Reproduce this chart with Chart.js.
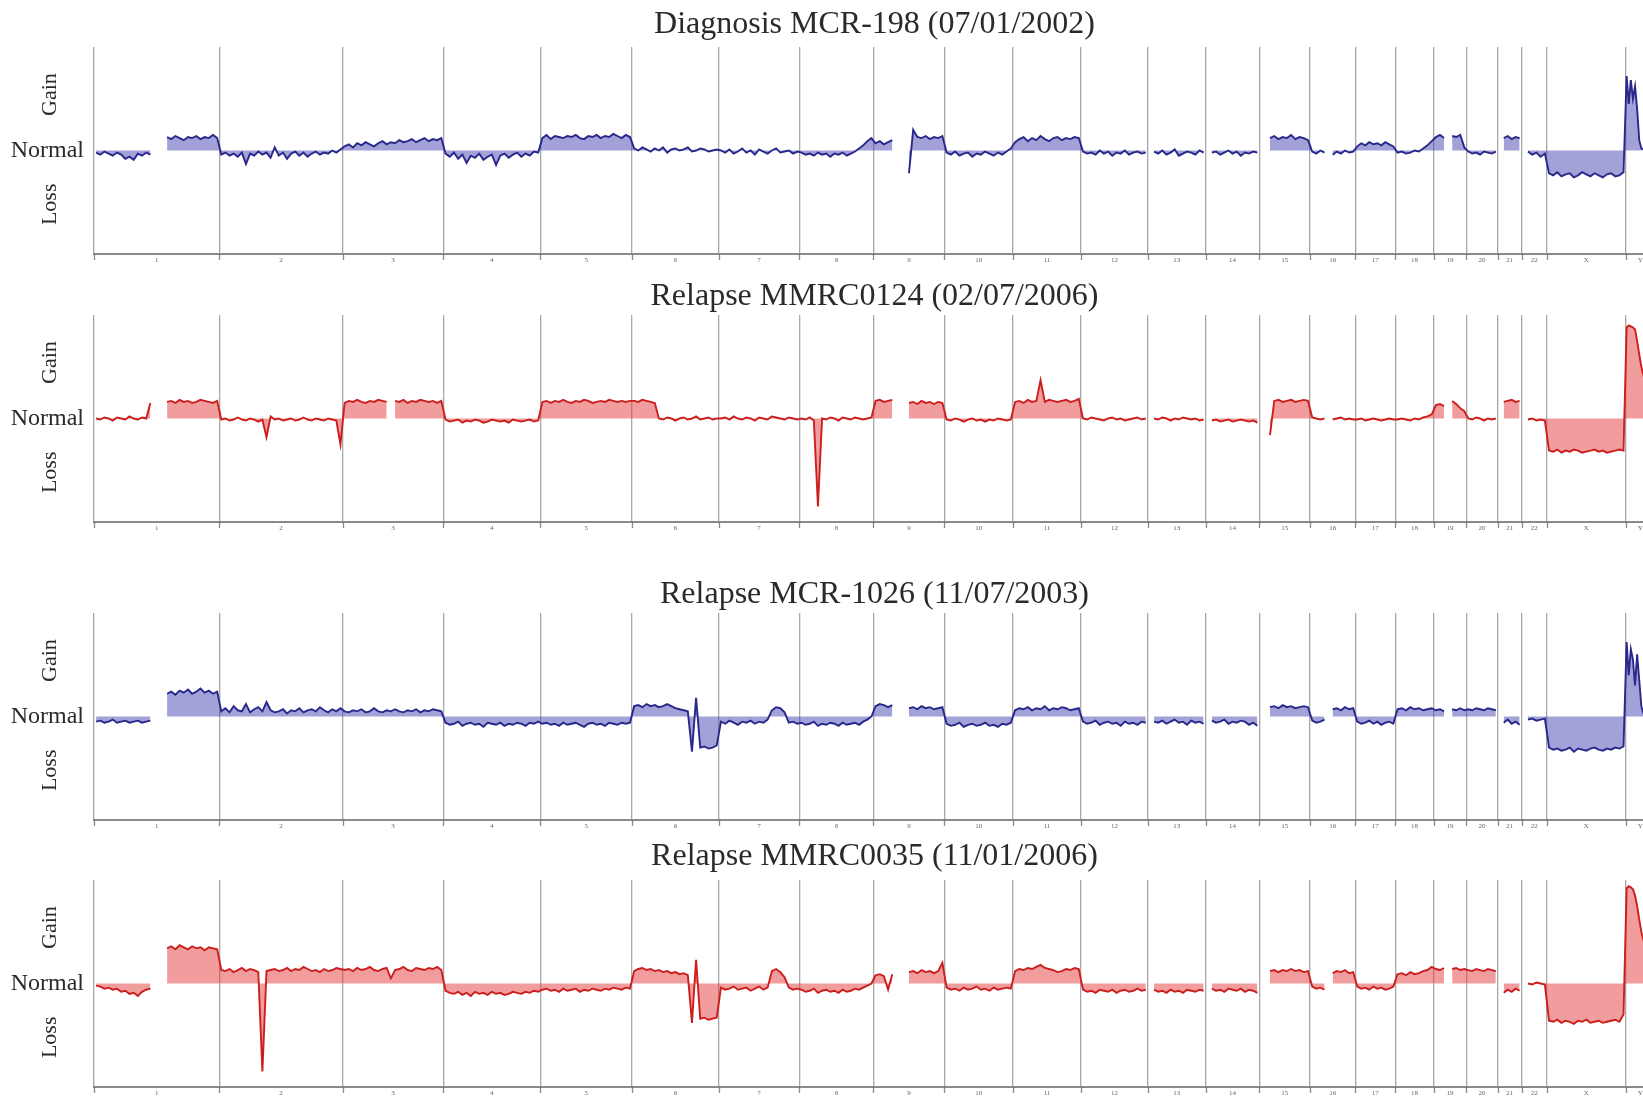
<!DOCTYPE html>
<html>
<head>
<meta charset="utf-8">
<script src="https://cdn.jsdelivr.net/npm/chart.js@4.4.1/dist/chart.umd.min.js"></script>
<style>
html,body{margin:0;padding:0;background:#fff;overflow:hidden;width:1643px;height:1098px;position:relative;}
canvas{position:absolute;left:0;}
</style>
</head>
<body>
<canvas id="c0"></canvas>
<canvas id="c1"></canvas>
<canvas id="c2"></canvas>
<canvas id="c3"></canvas>
<script>
// ---- data ----
const chromosomes = ['1','2','3','4','5','6','7','8','9','10','11','12','13','14','15','16','17','18','19','20','21','22','X','Y'];
const chromLengths = [247,243,199,191,181,171,159,146,140,135,134,132,114,106,100,89,79,76,64,62,47,50,155,58];
const panelTitles = ['Diagnosis MCR-198 (07/01/2002)','Relapse MMRC0124 (02/07/2006)','Relapse MCR-1026 (11/07/2003)','Relapse MMRC0035 (11/01/2006)'];
const yLabels = ['Gain','Normal','Loss'];

// copy-number level (x100) per chromosome, evenly spaced along each chromosome; null = no probes
const diagnosisMCR198 = [
 [-2,-4,-1,-3,-5,-2,-4,-8,-6,-9,-3,-5,-2,-4,null,null,null,13,11,14,12,10,13,12,14,11,13,12,15,12],
 [-4,-2,-5,-3,-6,-2,-13,-3,-5,-1,-4,-2,-7,3,-5,-2,-8,-3,-1,-5,-2,-6,-3,-1,-4,-2,-3,0,-2,1],
 [4,6,3,7,5,8,6,4,7,9,6,8,7,10,8,9,11,8,10,12,9,11,10,12],
 [-3,-6,-2,-8,-4,-12,-5,-7,-3,-9,-6,-4,-14,-5,-3,-7,-4,-2,-6,-3,-5,-1,-2],
 [12,15,11,14,13,12,14,13,15,12,11,14,13,15,12,14,13,16,14,12,15,13],
 [2,0,3,1,-1,2,0,3,-2,1,2,0,1,3,-1,0,2,1,-1,0,1],
 [0,-2,1,-3,-1,2,-2,0,-4,1,-1,-3,0,2,-2,-1,0,-3,-1],
 [-2,-4,-3,-5,-2,-4,-3,-6,-3,-4,-2,-5,-3,-1,2,5,9,12],
 [7,9,6,8,10,null,null,null,-22,20,13,12,14,11,13,12,14],
 [-2,-4,-1,-5,-3,-2,-6,-3,-4,-1,-3,-5,-2,-4,-1,2],
 [8,11,13,9,12,10,14,11,9,12,13,10,12,11,13,12],
 [-1,-3,-2,-4,0,-3,-1,-5,-2,-3,0,-4,-2,-1,-3,-2],
 [null,-1,-3,0,-4,-2,1,-5,-3,-1,-2,-4,0,-2],
 [null,-2,-1,-4,-2,0,-3,-1,-5,-2,-3,-1,-2],
 [null,null,12,14,11,13,12,15,11,13,12,10],
 [-1,-3,0,-2,null,-4,-1,-3,0,-2,-1],
 [4,7,5,8,6,7,5,8,6,4],
 [-2,-1,-3,-2,0,-1,2,5,9],
 [13,15,12,null,14,13,15,3],
 [-1,-3,-2,-4,-1,-2,-3,-1],
 [null,12,14,11,13,12],
 [null,-1,-4,-2,-6,-3],
 [-22,-24,-21,-25,-23,-22,-26,-24,-21,-23,-25,-22,-24,-26,-23,-22,-25,-24,-21],
 [72,45,68,50,62,40,10,2,1,0,2,1,0,1]
];
const relapseMMRC0124 = [
 [0,-1,1,0,-2,1,0,-1,2,0,-1,1,0,15,null,null,null,16,17,15,18,16,17,15,16,18,17,16,15,17],
 [-1,0,-2,-1,1,-1,-2,0,-1,-3,-1,-18,2,-1,0,-2,-1,0,-2,-1,1,-1,-2,0,-1,-2,0,-1,-2,-25],
 [15,17,16,18,16,15,17,16,18,17,16,null,17,16,18,15,17,16,18,17,16,17,15,17],
 [-1,-3,-2,-1,-4,-2,-3,-1,-2,-4,-3,-1,-2,-3,-2,-4,-1,-2,-3,-2,-1,-3,-2],
 [16,17,15,17,16,18,16,15,17,16,18,17,15,16,17,16,18,17,16,17,16,17],
 [17,16,18,17,16,15,0,-1,1,0,-2,0,1,-1,0,2,-1,0,1,-1,0],
 [0,1,-1,2,0,-1,1,0,-2,1,0,-1,2,1,0,-1,1,0,-1],
 [0,-1,1,-2,-85,0,-1,1,0,-2,1,0,-1,1,0,-1,0,1],
 [17,18,16,17,18,null,null,null,15,16,14,17,15,16,14,16,15],
 [-1,-2,0,-1,-3,-1,0,-2,-1,-3,-1,-2,0,-1,-2,-1],
 [16,17,15,18,16,17,37,16,18,17,16,17,18,16,17,19],
 [0,-1,1,0,-1,-2,0,1,-1,0,-2,-1,0,1,-1,0],
 [null,0,-1,1,0,-2,0,-1,1,0,-1,0,-2,-1],
 [null,-2,-1,-3,-2,-1,-3,-2,-1,-2,-3,-2,-4],
 [null,null,-16,17,18,16,17,18,16,17,18,17],
 [1,0,-1,0,null,-1,0,1,-1,0,-1],
 [-1,0,-2,-1,0,-1,-2,-1,0,-1],
 [-1,0,-1,-2,0,-1,1,2,4],
 [13,14,12,null,17,14,10,7],
 [0,-1,1,0,-2,0,-1,0],
 [null,16,17,18,16,17],
 [null,-1,0,-2,-1,-2],
 [-31,-32,-30,-33,-31,-32,-30,-31,-33,-32,-31,-30,-32,-31,-33,-32,-31,-30,-31],
 [88,90,89,88,86,75,62,50,42,35,30,26,22,20]
];
const relapseMCR1026 = [
 [-5,-4,-6,-5,-3,-6,-5,-4,-6,-5,-4,-6,-5,-4,null,null,null,22,24,21,25,23,26,22,24,27,23,25,22,24],
 [5,8,4,10,6,5,12,4,7,9,5,14,6,4,5,7,3,6,5,8,4,6,7,5,9,6,4,7,5,8],
 [5,4,6,5,7,4,5,8,5,4,6,5,7,5,4,6,5,7,4,6,5,7,6,5],
 [-6,-8,-7,-5,-9,-7,-6,-8,-7,-10,-6,-7,-8,-6,-9,-7,-8,-6,-7,-9,-6,-7,-5],
 [-7,-6,-8,-7,-9,-6,-8,-7,-6,-8,-10,-7,-6,-8,-7,-9,-6,-7,-8,-6,-7,-6],
 [10,11,9,12,10,11,9,10,12,10,8,7,6,5,-34,18,-30,-29,-31,-30,-28],
 [-5,-7,-4,-6,-8,-5,-6,-4,-7,-5,-6,-3,6,9,8,4,-6,-5,-7],
 [-6,-8,-7,-5,-9,-7,-8,-6,-7,-9,-6,-8,-7,-6,-8,-5,-3,0],
 [10,12,11,9,11,null,null,null,8,9,7,10,8,9,7,8,9],
 [-7,-9,-8,-6,-10,-8,-7,-9,-8,-6,-9,-8,-10,-7,-8,-6],
 [6,8,7,9,6,8,7,10,6,8,7,9,8,6,7,8],
 [-5,-7,-6,-4,-8,-6,-5,-7,-6,-9,-5,-7,-6,-8,-5,-6],
 [null,-5,-6,-4,-7,-5,-3,-6,-5,-8,-4,-6,-5,-7],
 [null,-4,-6,-5,-3,-7,-5,-6,-4,-5,-8,-6,-9],
 [null,null,9,10,8,11,9,10,8,9,10,9],
 [-4,-6,-5,-3,null,7,8,6,9,7,8],
 [-5,-7,-6,-4,-7,-5,-8,-6,-5,-7],
 [7,8,6,9,7,8,6,7,8],
 [6,7,5,null,7,6,8,6],
 [7,6,8,7,6,8,7,6],
 [null,-6,-3,-7,-5,-8],
 [null,-3,-2,-4,-3,-2],
 [-30,-32,-31,-33,-32,-30,-34,-31,-32,-33,-31,-30,-32,-33,-31,-32,-30,-31,-29],
 [72,40,65,55,30,60,35,10,3,1,0,2,1,0]
];
const relapseMMRC0035 = [
 [-2,-3,-5,-4,-6,-5,-8,-7,-10,-9,-12,-8,-6,-5,null,null,null,34,36,33,37,35,33,36,34,35,32,35,34,33],
 [13,12,14,11,13,15,12,14,13,11,-85,12,13,14,12,13,15,12,14,13,16,14,12,13,11,14,12,13,15,14],
 [13,14,12,15,13,14,16,13,12,14,15,5,13,14,16,13,12,15,14,13,15,14,16,13],
 [-7,-9,-10,-8,-11,-9,-12,-8,-10,-9,-11,-8,-10,-9,-11,-10,-8,-9,-10,-8,-9,-7,-8],
 [-6,-5,-7,-6,-8,-5,-7,-6,-5,-8,-6,-7,-5,-6,-7,-5,-6,-4,-5,-6,-4,-5],
 [12,14,15,13,14,12,13,11,12,10,11,9,10,8,-38,23,-34,-33,-35,-34,-33],
 [-4,-6,-5,-3,-6,-5,-4,-7,-5,-3,-6,-4,12,14,11,6,-4,-6,-5],
 [-6,-8,-7,-5,-9,-7,-6,-8,-7,-9,-6,-8,-7,-5,-6,-4,-2,0],
 [8,9,7,-6,9,null,null,null,11,12,10,13,11,12,10,12,20],
 [-4,-6,-5,-7,-4,-6,-5,-3,-6,-5,-7,-4,-6,-5,-4,-5],
 [12,14,13,15,14,16,18,15,14,13,11,12,14,13,15,14],
 [-6,-8,-7,-9,-6,-7,-8,-6,-9,-7,-6,-8,-7,-5,-7,-6],
 [null,-6,-8,-7,-9,-6,-8,-7,-9,-6,-7,-8,-6,-7],
 [null,-5,-7,-6,-8,-5,-6,-7,-5,-8,-6,-7,-9],
 [null,null,12,13,11,13,12,14,12,13,11,12],
 [-3,-5,-4,-6,null,10,12,11,13,10,11],
 [-3,-5,-4,-6,-3,-5,-4,-6,-5,-3],
 [9,10,8,11,9,10,12,13,16],
 [14,13,15,null,14,15,13,14],
 [13,12,14,13,12,14,13,12],
 [null,-9,-6,-8,-5,-7],
 [null,0,-1,1,0,-1],
 [-36,-37,-35,-38,-36,-37,-39,-36,-37,-35,-38,-37,-36,-38,-37,-36,-35,-37,-30],
 [92,94,93,91,85,75,62,50,42,35,30,26,22,20]
];
const panelData = [diagnosisMCR198, relapseMMRC0124, relapseMCR1026, relapseMMRC0035];

// ---- derived positions (Mb) ----
const chromStarts = [];
let acc = 0;
chromLengths.forEach(l => { chromStarts.push(acc); acc += l; });
const genomeLength = acc;
const boundaries = chromStarts.concat([genomeLength]);

function toPoints(profile) {
  const pts = [];
  profile.forEach((vals, c) => {
    const n = vals.length, L = chromLengths[c], s = chromStarts[c];
    vals.forEach((v, i) => pts.push({ x: s + (i + 0.5) * L / n, y: v }));
  });
  return pts;
}

// ---- styling / layout ----
const SERIF = '"Liberation Serif","Times New Roman",serif';
const plotTops = [47, 315, 613, 880];
const titleGaps = [22, 18, 18, 23];
const PAD_TOP = 50, PLOT_H = 207, PAD_BOTTOM = 22, CANVAS_W = 1680;
const styles = [
  { line: 'rgb(40,40,140)', fill: 'rgba(70,70,180,0.5)' },
  { line: 'rgb(205,30,30)', fill: 'rgba(228,60,60,0.5)' },
  { line: 'rgb(40,40,140)', fill: 'rgba(70,70,180,0.5)' },
  { line: 'rgb(205,30,30)', fill: 'rgba(228,60,60,0.5)' }
];

const decor = {
  id: 'decor',
  afterDraw(chart, args, opts) {
    const { ctx, chartArea: a, scales: { x, y } } = chart;
    ctx.save();
    ctx.strokeStyle = 'rgba(100,100,100,0.75)';
    ctx.lineWidth = 1.3;
    boundaries.forEach(b => {
      const px = Math.round(x.getPixelForValue(b)) + 0.5;
      ctx.beginPath(); ctx.moveTo(px, a.bottom); ctx.lineTo(px, a.bottom + 6); ctx.stroke();
    });
    ctx.fillStyle = '#666';
    ctx.font = '7px ' + SERIF;
    ctx.textAlign = 'center';
    ctx.textBaseline = 'top';
    chromosomes.forEach((c, i) => {
      ctx.fillText(c, x.getPixelForValue(chromStarts[i] + chromLengths[i] / 2), a.bottom + 3);
    });
    ctx.fillStyle = '#2a2a2a';
    ctx.font = '32px ' + SERIF;
    ctx.textBaseline = 'middle';
    ctx.fillText(opts.title, (a.left + a.right) / 2, a.top - opts.titleGap);
    ctx.font = '24px ' + SERIF;
    ctx.textAlign = 'right';
    ctx.fillText(yLabels[1], a.left - 10, y.getPixelForValue(0));
    ctx.font = '22px ' + SERIF;
    ctx.textAlign = 'center';
    [[yLabels[0], 54], [yLabels[2], -52]].forEach(([t, v]) => {
      ctx.save();
      ctx.translate(50, y.getPixelForValue(v));
      ctx.rotate(-Math.PI / 2);
      ctx.fillText(t, 0, 0);
      ctx.restore();
    });
    ctx.restore();
  }
};

panelData.forEach((profile, k) => {
  const cv = document.getElementById('c' + k);
  cv.width = CANVAS_W;
  cv.height = PAD_TOP + PLOT_H + PAD_BOTTOM;
  cv.style.top = (plotTops[k] - PAD_TOP) + 'px';
  new Chart(cv, {
    type: 'line',
    data: {
      datasets: [{
        data: toPoints(profile),
        borderColor: styles[k].line,
        backgroundColor: styles[k].fill,
        fill: 'origin',
        borderWidth: 1.9,
        pointRadius: 0,
        tension: 0,
        spanGaps: false
      }]
    },
    options: {
      responsive: false,
      animation: false,
      devicePixelRatio: 1,
      layout: { padding: { left: 94, right: CANVAS_W - 1655, top: PAD_TOP, bottom: PAD_BOTTOM } },
      plugins: { legend: { display: false }, tooltip: { enabled: false }, title: { display: false },
        decor: { title: panelTitles[k], titleGap: titleGaps[k] } },
      scales: {
        x: {
          type: 'linear', min: 0, max: genomeLength,
          afterBuildTicks: s => { s.ticks = boundaries.map(v => ({ value: v })); },
          ticks: { display: false },
          grid: { display: true, drawTicks: false, color: 'rgba(110,110,110,0.6)', lineWidth: 1.3 },
          border: { display: true, color: '#8a8a8a', width: 2 }
        },
        y: { display: false, min: -100, max: 100 }
      }
    },
    plugins: [decor]
  });
});
</script>
</body>
</html>
